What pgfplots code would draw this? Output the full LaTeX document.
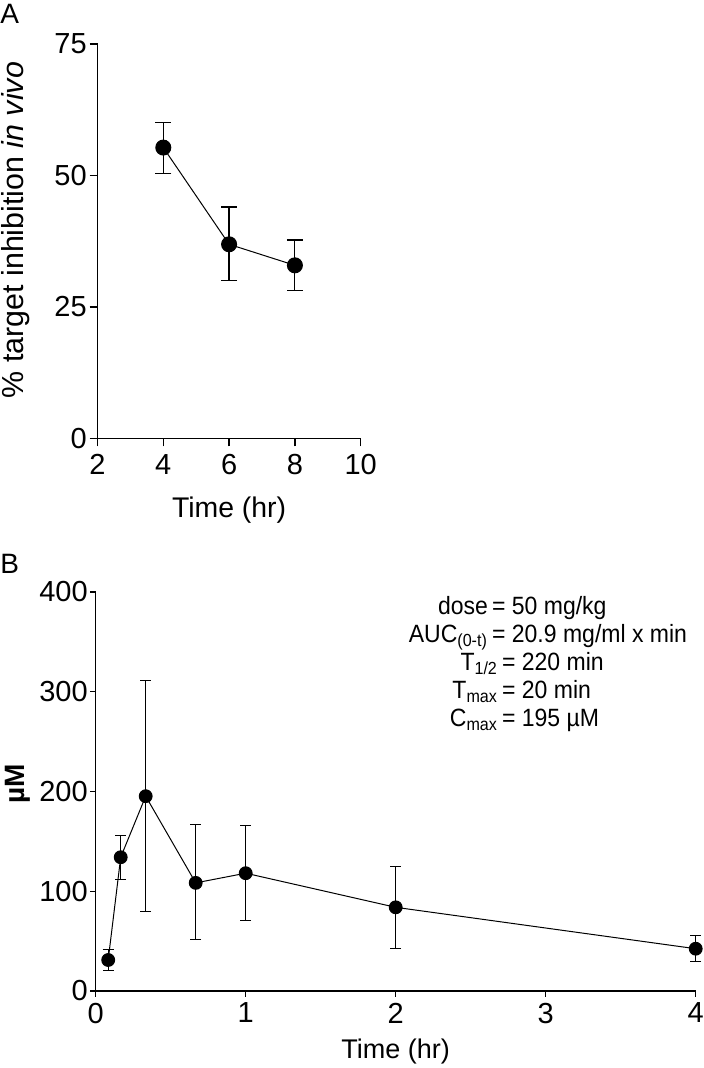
\documentclass[border=0pt]{standalone}
\usepackage{fontspec}
\setmainfont{Liberation Sans}
\newfontfamily\annfont[FakeStretch=0.92]{Liberation Sans}
\usepackage{pgfplots}
\pgfplotsset{compat=1.18}
\usepackage{pgfplotstable}

\pgfplotstableread{
x y ep em
4 55.3 4.7 4.9
6 36.9 7.1 6.9
8 32.9 4.8 4.8
}\dataA
\pgfplotstableread{
x y ep em
0.0833 31.1 11.0 10.4
0.1667 134.1 21.4 22.1
0.3333 195.3 116.4 116.0
0.6667 108.4 58.2 57.2
1 118.1 47.5 47.9
2 83.9 41.2 41.1
4 42.4 13.5 13.3
}\dataB

\begin{document}
\begin{tikzpicture}
\useasboundingbox (0,0) rectangle (352pt,-534pt);
\pgfplotsset{
 mystyle/.style={
  scale only axis, axis lines=left, axis line style={-, line width=0.7pt},
  tick align=outside, tick style={black, line width=0.7pt},
  enlargelimits=false, clip=false,
  /pgf/number format/assume math mode=true,
  tick label style={font=\fontsize{14.5}{16}\selectfont},
 }
}
\node[anchor=base west, inner sep=0pt, font=\fontsize{14}{16}\selectfont] at (0pt,-11.65pt) {A};
\node[anchor=base west, inner sep=0pt, font=\fontsize{14}{16}\selectfont] at (0pt,-286.5pt) {B};
\begin{axis}[mystyle, at={(48.75pt,-219.15pt)}, anchor=south west, width=131.6pt, height=197.15pt,
 xmin=2,xmax=10,ymin=0,ymax=75, xtick={2,4,6,8,10}, ytick={0,25,50,75},
 major tick length=4pt,
 xticklabel style={inner sep=4pt}, yticklabel style={inner sep=1.2pt},
 xlabel={Time (hr)}, ylabel={\% target inhibition \textit{in vivo}},
 every axis x label/.style={at={(axis description cs:0.5,0)}, anchor=base, yshift=-39.4pt, font=\fontsize{14.2}{16}\selectfont},
 every axis y label/.style={at={([xshift=-36.75pt]axis description cs:0,0.528)}, rotate=90, anchor=base, font=\fontsize{15.2}{17}\selectfont},
]
\addplot[black, line width=0.5pt, mark=*, mark size=3.75pt,
  error bars/.cd, y dir=both, y explicit,
  error bar style={line width=0.6pt},
  error mark options={rotate=90, mark size=4pt, line width=0.6pt}]
  table[x=x,y=y,y error plus=ep,y error minus=em]{\dataA};
\end{axis}
\begin{axis}[mystyle, at={(47.85pt,-495.5pt)}, anchor=south west, width=300pt, height=199.5pt,
 xmin=0,xmax=4,ymin=0,ymax=400, xtick={0,1,2,3,4}, ytick={0,100,200,300,400},
 major tick length=2.8pt, axis line style={line width=0.55pt}, tick style={line width=0.55pt},
 xticklabel style={inner sep=3pt}, yticklabel style={inner sep=1pt},
 xlabel={Time (hr)}, ylabel={\bfseries µM},
 every axis x label/.style={at={(axis description cs:0.5,0)}, anchor=base, yshift=-33.5pt, font=\fontsize{13.5}{15}\selectfont},
 every axis y label/.style={at={([xshift=-35.5pt]axis description cs:0,0.52)}, rotate=90, anchor=base, font=\fontsize{14}{16}\selectfont},
]
\addplot[black, line width=0.5pt, mark=*, mark size=3.2pt,
  error bars/.cd, y dir=both, y explicit,
  error bar style={line width=0.5pt},
  error mark options={rotate=90, mark size=2.75pt, line width=0.5pt}]
  table[x=x,y=y,y error plus=ep,y error minus=em]{\dataB};
\node[anchor=north west, inner sep=0pt, align=left, font=\annfont\fontsize{12.5}{14}\selectfont] at (rel axis cs:0.66,0.99)
 {\llap{dose\,}= 50 mg/kg\\
 \llap{AUC\textsubscript{(0-t)}\,}= 20.9 mg/ml x min\\
 \hspace*{5pt}\llap{T\textsubscript{1/2}\,}= 220 min\\
 \hspace*{5pt}\llap{T\textsubscript{max}\,}= 20 min\\
 \hspace*{5pt}\llap{C\textsubscript{max}\,}= 195 µM};
\end{axis}
\end{tikzpicture}
\end{document}
